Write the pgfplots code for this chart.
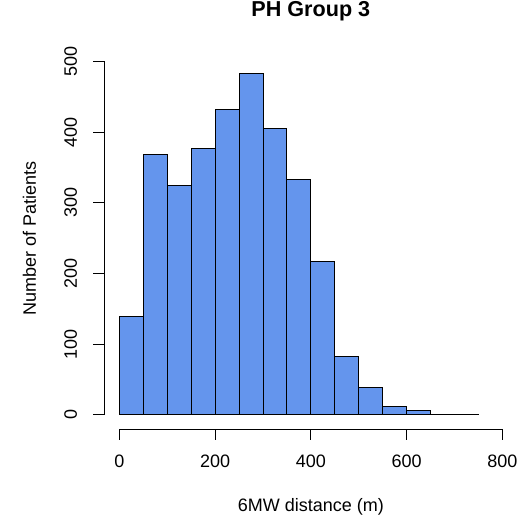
\documentclass[border=0pt]{standalone}
\usepackage{fontspec}
\setmainfont{Liberation Sans}
\usepackage{pgfplots}
\pgfplotsset{compat=1.18}
\usetikzlibrary{calc}
\definecolor{barblue}{RGB}{100,149,237}
\begin{document}
\fontsize{18pt}{21.6pt}\selectfont
\begin{tikzpicture}
\useasboundingbox (-104pt,-89pt) rectangle (417pt,429pt);
\begin{axis}[
 at={(0,0)}, anchor=south west,
 x=0.4788pt, y=0.707pt,
 xmin=-32, xmax=832, ymin=-20, ymax=520,
 axis lines=left, axis line style={draw=none},
 tick align=outside, major tick length=11pt,
 tick style={black, line width=0.9pt},
 xtick={0,200,400,600,800}, ytick={0,100,200,300,400,500},
 minor tick num=0,
 /pgf/number format/assume math mode=true,
 tick label style={font=\fontsize{18pt}{20pt}\selectfont},
 xticklabel style={anchor=base},
 xticklabel shift=28pt,
 yticklabel style={rotate=90, anchor=base},
 yticklabel shift=16pt,
 title={PH Group 3},
 title style={font=\fontsize{21.6pt}{24pt}\selectfont\bfseries, at={(0.5,1)}, anchor=base, yshift=25.2pt},
 xlabel={6MW distance (m)},
 xlabel style={font=\fontsize{18pt}{20pt}\selectfont, at={(0.5,0)}, anchor=base, yshift=-82pt},
 ylabel={Number of Patients},
 ylabel style={font=\fontsize{18pt}{20pt}\selectfont, at={($(axis description cs:0,0.5)+(-68pt,0pt)$)}, rotate=0, anchor=base},
 clip=false,
]
\addplot[ybar interval, fill=barblue, draw=black, line width=0.9pt] coordinates {
 (0,139) (50,368) (100,325) (150,377) (200,432) (250,483) (300,405)
 (350,333) (400,217) (450,83) (500,39) (550,12) (600,6) (650,1) (700,1) (750,0)};
\draw[black, line width=0.9pt] (axis cs:0,-20) -- (axis cs:800,-20);
\draw[black, line width=0.9pt] (axis cs:-32,0) -- (axis cs:-32,500);
\end{axis}
\end{tikzpicture}
\end{document}
